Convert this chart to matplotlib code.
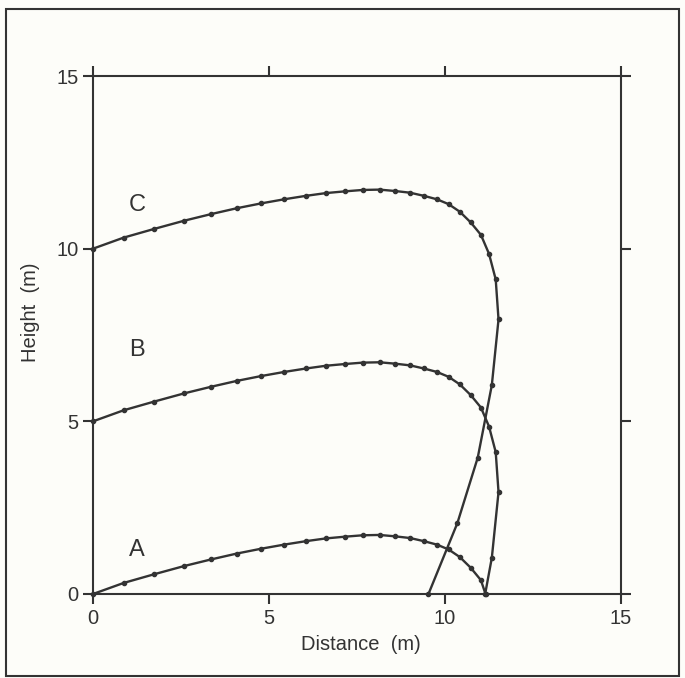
import numpy as np
import matplotlib
matplotlib.use("Agg")
import matplotlib.pyplot as plt
from matplotlib.patches import Rectangle

plt.rcParams['font.family'] = ['Liberation Sans', 'DejaVu Sans']

# trajectory A - launched from the ground
a_x = [0, 0.87, 1.73, 2.59, 3.35, 4.08, 4.77, 5.43, 6.05, 6.62, 7.16, 7.66,
       8.14, 8.58, 9.01, 9.40, 9.77, 10.10, 10.42, 10.73, 11.02, 11.15]
a_y = [0, 0.32, 0.57, 0.81, 1.00, 1.17, 1.31, 1.43, 1.53, 1.61, 1.66, 1.70,
       1.71, 1.67, 1.62, 1.53, 1.43, 1.29, 1.07, 0.76, 0.40, 0.0]

# trajectory B - launched from 5 m
b_x = [0, 0.87, 1.73, 2.59, 3.35, 4.08, 4.77, 5.43, 6.05, 6.62, 7.16, 7.66,
       8.14, 8.58, 9.01, 9.40, 9.77, 10.10, 10.42, 10.73, 11.02, 11.25, 11.44,
       11.52, 11.33, 11.14]
b_y = [5.0, 5.32, 5.57, 5.81, 6.00, 6.17, 6.31, 6.43, 6.53, 6.61, 6.66, 6.70,
       6.71, 6.67, 6.62, 6.53, 6.43, 6.29, 6.07, 5.76, 5.40, 4.85, 4.11,
       2.95, 1.05, 0.0]

# trajectory C - launched from 10 m
c_x = [0, 0.87, 1.73, 2.59, 3.35, 4.08, 4.77, 5.43, 6.05, 6.62, 7.16, 7.66,
       8.14, 8.58, 9.01, 9.40, 9.77, 10.10, 10.42, 10.73, 11.02, 11.25, 11.44,
       11.52, 11.33, 10.93, 10.35, 9.53]
c_y = [10.0, 10.32, 10.57, 10.81, 11.00, 11.17, 11.31, 11.43, 11.53, 11.61,
       11.66, 11.70, 11.71, 11.67, 11.62, 11.53, 11.43, 11.29, 11.07, 10.76,
       10.40, 9.85, 9.11, 7.95, 6.05, 3.95, 2.05, 0.0]

labels = ["A", "B", "C"]
label_pos = [(1.25, 1.27), (1.25, 7.07), (1.25, 11.27)]
ticks = [0, 5, 10, 15]

ink = '#333333'
bg = '#fdfdf9'

fig = plt.figure(figsize=(6.85, 6.78), dpi=100, facecolor=bg)
ax = fig.add_axes([0.1358, 0.1239, 0.7708, 0.764])
ax.set_facecolor(bg)

for xs, ys in [(a_x, a_y), (b_x, b_y), (c_x, c_y)]:
    ax.plot(xs, ys, color=ink, lw=1.7, marker='o', ms=3.0,
            mfc=ink, mec=ink, clip_on=False)

for lab, (lx, ly) in zip(labels, label_pos):
    ax.text(lx, ly, lab, fontsize=17, color=ink, ha='center', va='center')

ax.set_xlim(0, 15)
ax.set_ylim(0, 15)
ax.set_xticks(ticks)
ax.set_yticks(ticks)
ax.tick_params(direction='out', length=7.5, width=1.5, color=ink,
               top=True, right=True, labelsize=14.5, labelcolor=ink, pad=3)
for s in ax.spines.values():
    s.set_linewidth(1.5)
    s.set_color(ink)

ax.set_xlabel("Distance  (m)", fontsize=14.5, color=ink)
ax.set_ylabel("Height  (m)", fontsize=14.5, color=ink)
ax.xaxis.set_label_coords(0.508, -0.098)
ax.xaxis.label.set_va('center')
ax.yaxis.set_label_coords(-0.119, 0.543)
ax.yaxis.label.set_va('center')

# frame around the whole figure
fig.patches.append(Rectangle((6 / 685, 1 - 676 / 678), 673 / 685, 667 / 678,
                             transform=fig.transFigure, fill=False,
                             ec=ink, lw=1.5))

fig.savefig("out.png", dpi=100, facecolor=bg)
